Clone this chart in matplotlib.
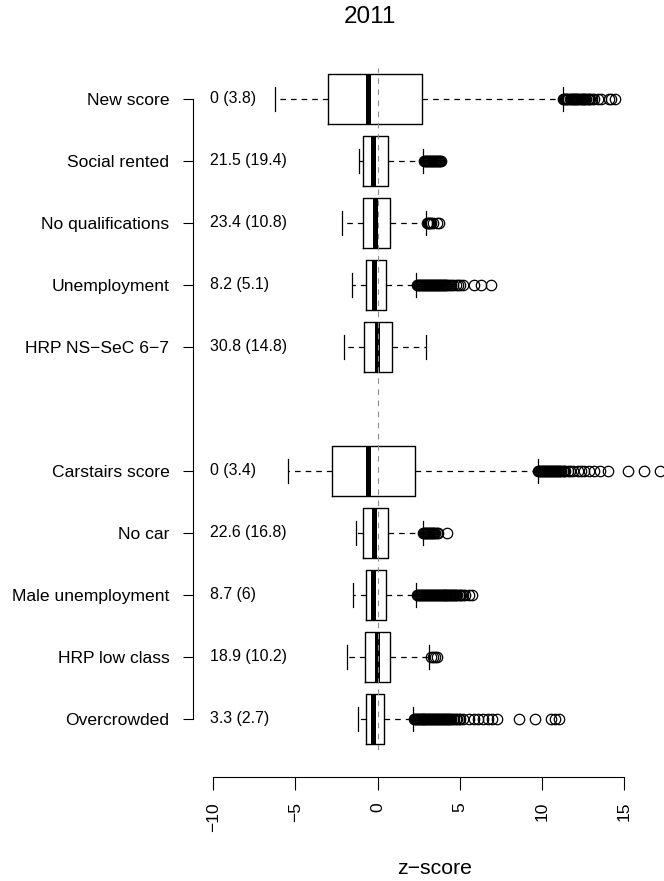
import matplotlib
matplotlib.use("Agg")
import matplotlib.pyplot as plt

plt.rcParams['font.family'] = ['Liberation Sans', 'DejaVu Sans']

# rows from top to bottom (None = empty slot between the two groups)
labels = ["New score", "Social rented", "No qualifications", "Unemployment",
          "HRP NS\u2212SeC 6\u22127", None, "Carstairs score", "No car",
          "Male unemployment", "HRP low class", "Overcrowded"]
mean_sd = ["0 (3.8)", "21.5 (19.4)", "23.4 (10.8)", "8.2 (5.1)", "30.8 (14.8)", None,
           "0 (3.4)", "22.6 (16.8)", "8.7 (6)", "18.9 (10.2)", "3.3 (2.7)"]

# box statistics (z-scores)
q1 =      [-3.03, -0.86, -0.88, -0.72, -0.80, None, -2.75, -0.86, -0.72, -0.78, -0.72]
median =  [-0.61, -0.26, -0.15, -0.21, -0.05, None, -0.56, -0.19, -0.29, -0.05, -0.27]
q3 =      [2.73, 0.62, 0.76, 0.52, 0.86, None, 2.28, 0.62, 0.52, 0.76, 0.41]
whis_lo = [-6.24, -1.11, -2.15, -1.57, -2.02, None, -5.47, -1.31, -1.47, -1.86, -1.21]
whis_hi = [11.28, 2.79, 2.95, 2.34, 2.93, None, 9.76, 2.75, 2.34, 3.12, 2.14]

out_new = [11.3, 11.36, 11.42, 11.5, 11.56, 11.62, 11.7, 11.76, 11.83, 11.9, 11.96,
           12.03, 12.1, 12.17, 12.24, 12.3, 12.37, 12.44, 12.5, 12.58, 12.65, 12.72,
           12.8, 12.88, 12.95, 13.05, 13.2, 13.4, 13.6, 14.1, 14.2, 14.45]
out_social = [2.85, 2.9, 2.96, 3.02, 3.08, 3.14, 3.2, 3.26, 3.32, 3.38, 3.44, 3.5,
              3.56, 3.62, 3.68, 3.74, 3.8, 3.87]
out_noqual = [3.02, 3.08, 3.14, 3.2, 3.27, 3.35, 3.6, 3.75]
out_unemp = [2.4, 2.46, 2.52, 2.58, 2.64, 2.7, 2.76, 2.82, 2.88, 2.94, 3.0, 3.06,
             3.12, 3.18, 3.24, 3.3, 3.36, 3.42, 3.48, 3.54, 3.6, 3.66, 3.72, 3.78,
             3.84, 3.9, 3.97, 4.04, 4.1, 4.18, 4.26, 4.35, 4.45, 4.6, 4.75, 4.9,
             5.05, 5.2, 5.9, 6.3, 6.9]
out_hrp = []
out_carstairs = [9.8, 9.86, 9.92, 9.98, 10.04, 10.1, 10.16, 10.22, 10.28, 10.34,
                 10.4, 10.46, 10.52, 10.58, 10.64, 10.7, 10.76, 10.82, 10.88, 10.94,
                 11.0, 11.06, 11.12, 11.2, 11.28, 11.36, 11.45, 11.6, 11.75, 11.9,
                 12.2, 12.4, 12.6, 12.9, 13.2, 13.55, 14.04, 15.28, 16.25, 17.2]
out_nocar = [2.8, 2.86, 2.92, 2.98, 3.04, 3.1, 3.16, 3.22, 3.28, 3.34, 3.4, 3.46,
             3.52, 3.6, 3.7, 4.25]
out_male = [2.4, 2.46, 2.52, 2.58, 2.64, 2.7, 2.76, 2.82, 2.88, 2.94, 3.0, 3.06,
            3.12, 3.18, 3.24, 3.3, 3.36, 3.42, 3.48, 3.54, 3.6, 3.66, 3.72, 3.78,
            3.84, 3.9, 3.96, 4.02, 4.08, 4.14, 4.2, 4.26, 4.32, 4.38, 4.44, 4.5,
            4.56, 4.62, 4.68, 4.74, 4.8, 4.87, 4.94, 5.02, 5.1, 5.2, 5.35, 5.55, 5.74]
out_lowclass = [3.25, 3.35, 3.48, 3.62]
out_overcrowd = [2.2, 2.26, 2.32, 2.38, 2.44, 2.5, 2.56, 2.62, 2.68, 2.74, 2.8, 2.86,
                 2.92, 2.98, 3.04, 3.1, 3.16, 3.22, 3.28, 3.34, 3.4, 3.46, 3.52, 3.58,
                 3.64, 3.7, 3.76, 3.82, 3.88, 3.94, 4.0, 4.06, 4.12, 4.18, 4.24, 4.3,
                 4.36, 4.42, 4.5, 4.58, 4.66, 4.75, 4.85, 4.95, 5.05, 5.2, 5.6, 5.9,
                 6.1, 6.4, 6.7, 7.0, 7.3, 8.62, 9.6, 10.55, 10.8, 11.05]
outliers = [out_new, out_social, out_noqual, out_unemp, out_hrp, None,
            out_carstairs, out_nocar, out_male, out_lowclass, out_overcrowd]

x_ticks = [-10, -5, 0, 5, 10, 15]

fig = plt.figure(figsize=(6.64, 8.81), dpi=100)
ax = fig.add_axes([193 / 664, 131 / 881, 471 / 664, 682 / 881])

n = len(labels)
stats, pos, ylabs = [], [], []
for i in range(n):
    if labels[i] is None:
        continue
    p = n - i
    stats.append(dict(q1=q1[i], med=median[i], q3=q3[i], whislo=whis_lo[i],
                      whishi=whis_hi[i], fliers=outliers[i]))
    pos.append(p)
    ylabs.append(labels[i])
    ax.text(-10.2, p, mean_sd[i], ha='left', va='center', fontsize=11.4)

ax.bxp(stats, positions=pos, orientation='horizontal', widths=0.8, capwidths=0.4,
       boxprops=dict(color='black', lw=1.0),
       medianprops=dict(color='black', lw=3.6, solid_capstyle='butt'),
       whiskerprops=dict(color='black', lw=0.9, linestyle=(0, (4.5, 4))),
       capprops=dict(color='black', lw=0.9),
       flierprops=dict(marker='o', markerfacecolor='none', markeredgecolor='black',
                       markersize=7.5, markeredgewidth=0.9))

ax.axvline(0, color='0.55', lw=0.8, linestyle=(0, (5, 5)), zorder=5)

ax.set_xlim(-11.24, 17.45)
ax.set_ylim(0.5, n + 0.5)

for s in ['top', 'right']:
    ax.spines[s].set_visible(False)
ax.spines['left'].set_bounds(1, n)
ax.spines['bottom'].set_bounds(-10, 15)
ax.spines['bottom'].set_position(('outward', 19.5))
for s in ['left', 'bottom']:
    ax.spines[s].set_linewidth(0.8)

ax.set_yticks(pos)
ax.set_yticklabels(ylabs, fontsize=12.6)
ax.set_xticks(x_ticks)
ax.set_xticklabels([str(t).replace('-', '\u2212') for t in x_ticks], rotation=90,
                   fontsize=12.6)
ax.tick_params(axis='y', length=7.2, width=0.8, pad=9.8)
ax.tick_params(axis='x', length=9.4, width=0.8, pad=8.5)

fig.text(370 / 664, 1 - 17 / 881, "2011", ha='center', va='center', fontsize=17.5)
fig.text(434.5 / 664, 1 - 868 / 881, "z\u2212score", ha='center', va='center',
         fontsize=15.3)

fig.savefig("out.png", dpi=100)
